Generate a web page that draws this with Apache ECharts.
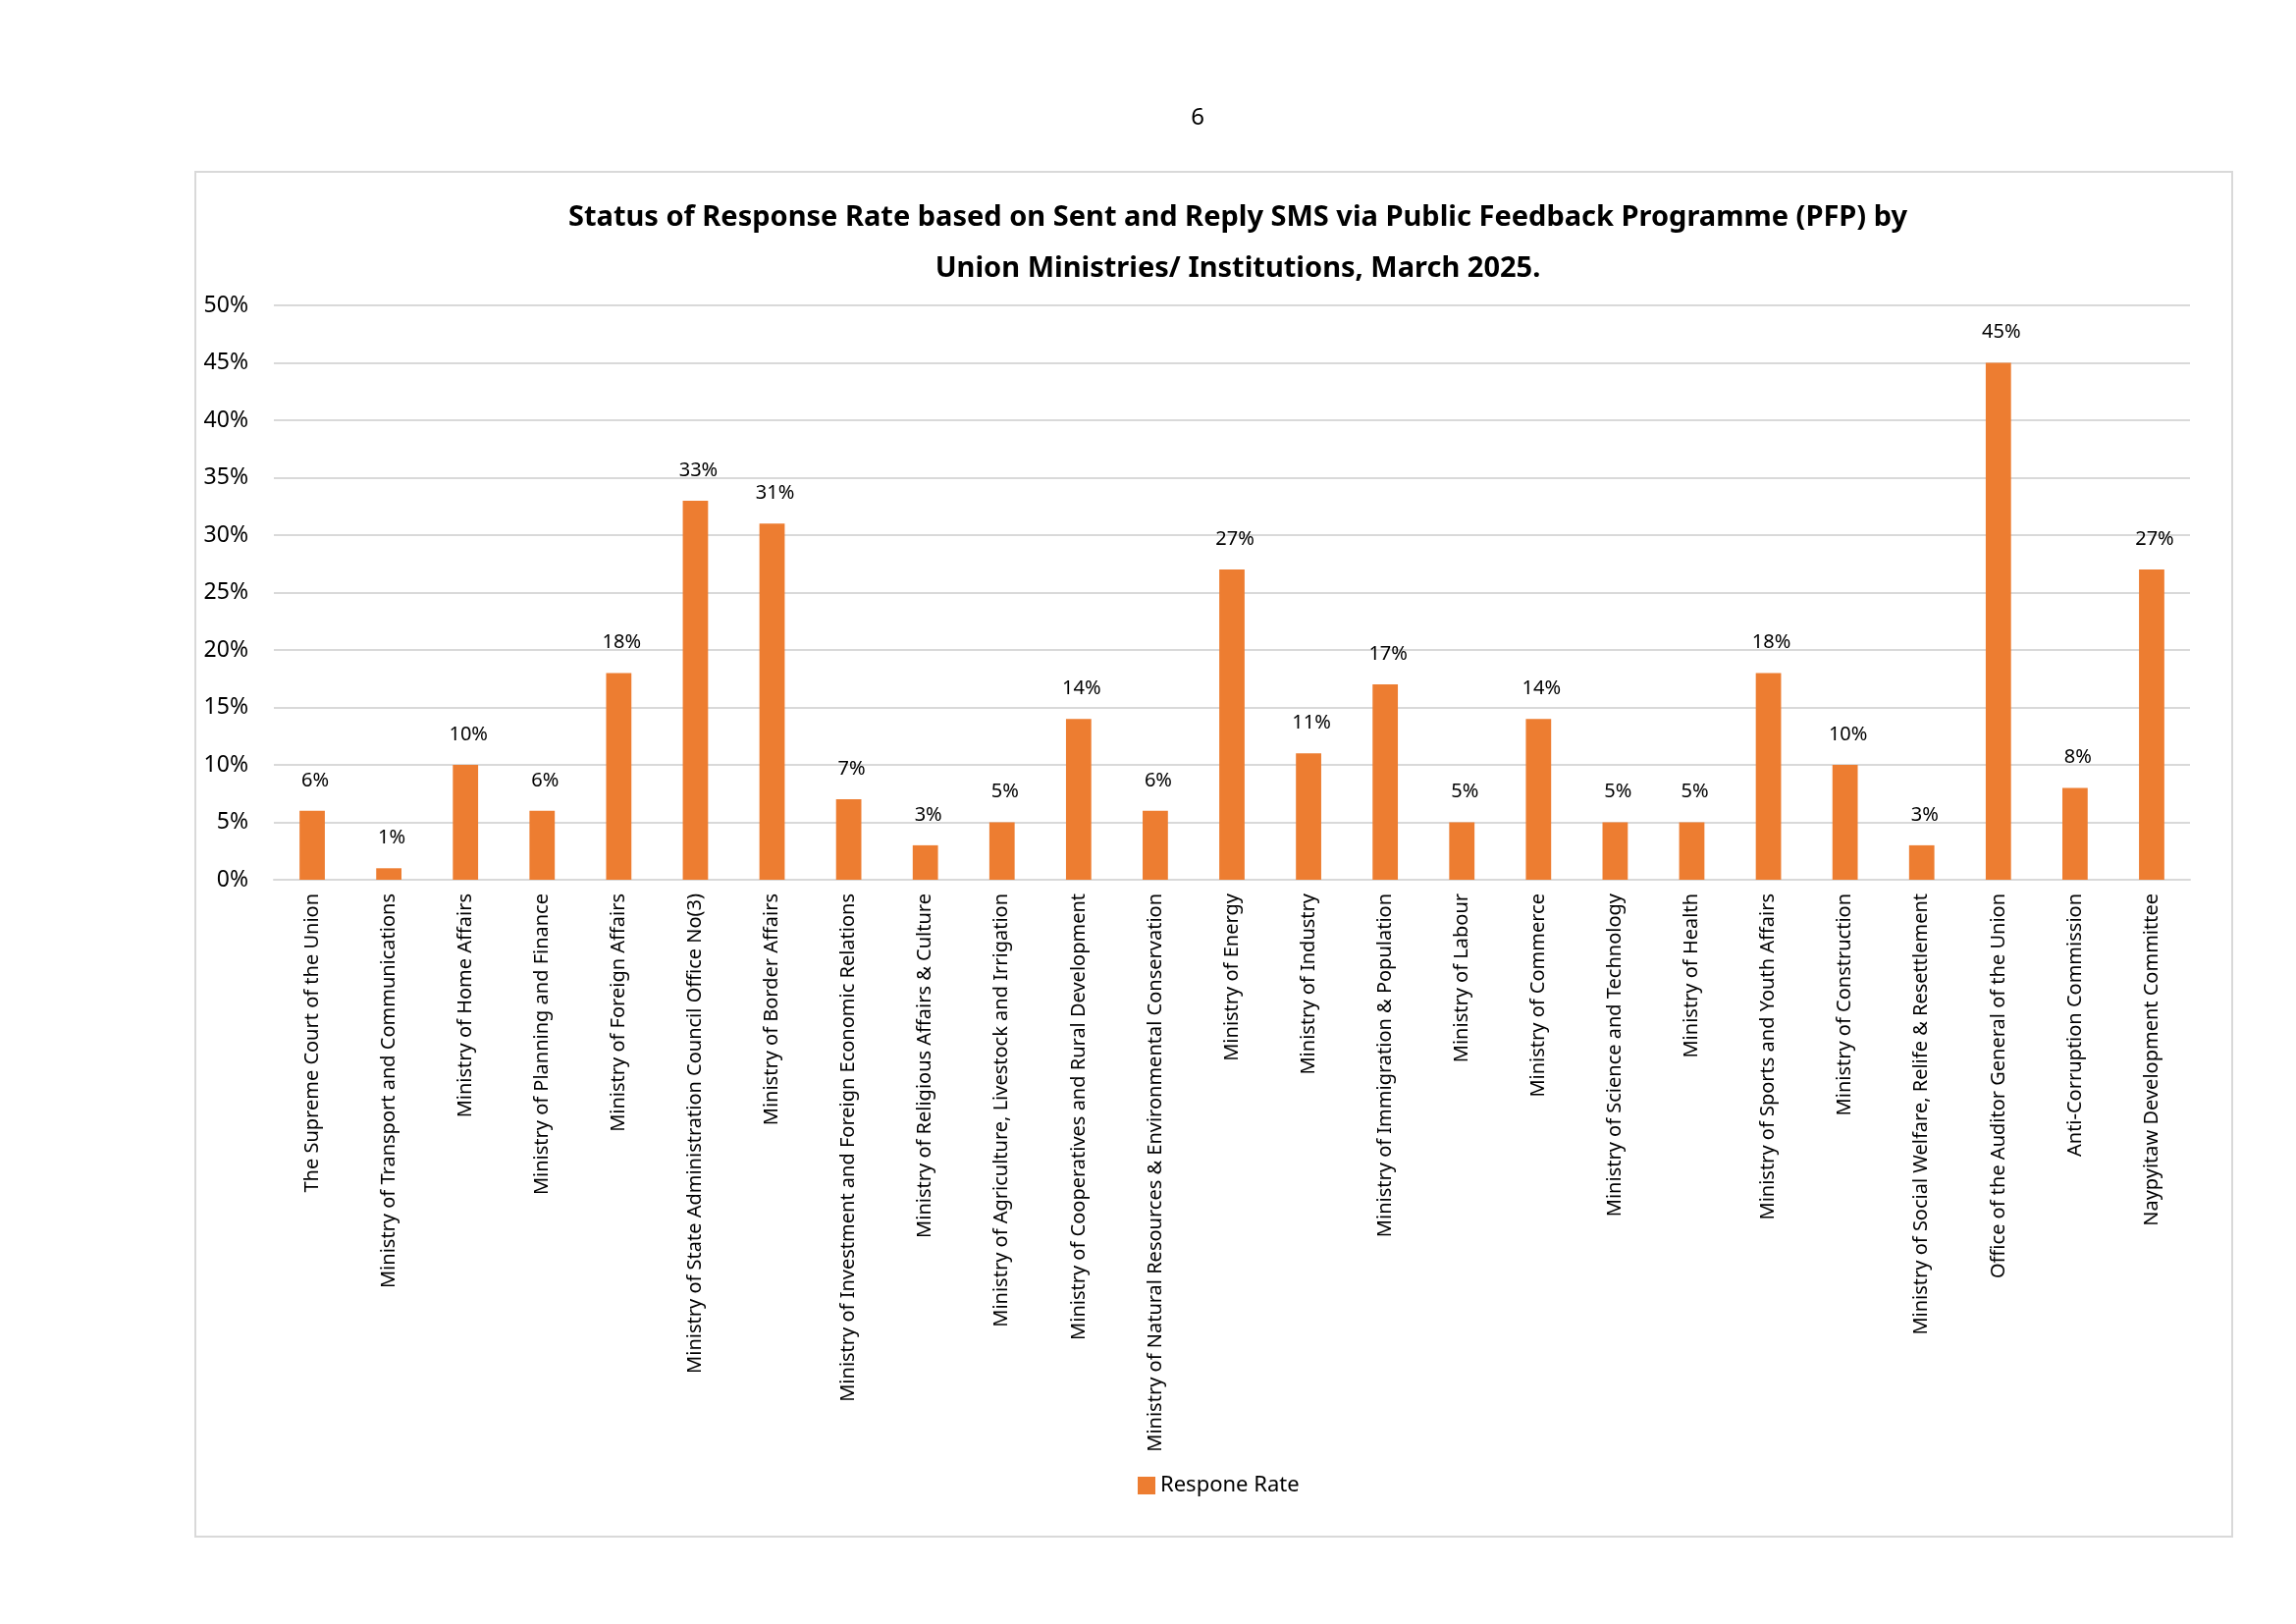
<!DOCTYPE html>
<html>
<head>
<meta charset="utf-8">
<script src="https://cdn.jsdelivr.net/npm/echarts@6/dist/echarts.min.js"></script>
<style>
	html, body { margin: 0; padding: 0; background: #fff; }
	#chart { width: 2339px; height: 1654px; }
</style>
</head>
<body>
<div id="chart"></div>
<script>
	// 数据
	var categories = [
		'The Supreme Court of the Union',
		'Ministry of Transport and Communications',
		'Ministry of Home Affairs',
		'Ministry of Planning and Finance',
		'Ministry of Foreign Affairs',
		'Ministry of State Administration Council Office No(3)',
		'Ministry of Border Affairs',
		'Ministry of Investment and Foreign Economic Relations',
		'Ministry of Religious Affairs & Culture',
		'Ministry of Agriculture, Livestock and Irrigation',
		'Ministry of Cooperatives and Rural Development',
		'Ministry of Natural Resources & Environmental Conservation',
		'Ministry of Energy',
		'Ministry of Industry',
		'Ministry of Immigration & Population',
		'Ministry of Labour',
		'Ministry of Commerce',
		'Ministry of Science and Technology',
		'Ministry of Health',
		'Ministry of Sports and Youth Affairs',
		'Ministry of Construction',
		'Ministry of Social Welfare, Relife & Resettlement',
		'Office of the Auditor General of the Union',
		'Anti-Corruption Commission',
		'Naypyitaw Development Committee'
	];
	var responseRate = [ 6, 1, 10, 6, 18, 33, 31, 7, 3, 5, 14, 6, 27, 11, 17, 5, 14, 5, 5, 18, 10, 3, 45, 8, 27 ];
	var seriesName = 'Respone Rate';
	var titleText = 'Status of Response Rate based on Sent and Reply SMS via Public Feedback Programme (PFP) by\nUnion Ministries/ Institutions, March 2025.';
	var pageNo = '6';

	var font = '"Noto Sans", "Open Sans", sans-serif';
	var orange = '#ED7D31';

	var chart = echarts.init(document.getElementById('chart'));
	chart.setOption({
		animation : false,
		color : [ orange ],
		textStyle : { fontFamily : font },
		// 外框
		graphic : [ {
			type : 'rect',
			shape : { x : 199, y : 175, width : 2075, height : 1390 },
			style : { fill : 'none', stroke : '#d9d9d9', lineWidth : 2 }
		} ],
		title : [ {
			text : pageNo,
			left : 1215,
			top : 103,
			textAlign : 'center',
			textStyle : { fontFamily : font, fontSize : 24, fontWeight : 'normal', color : '#000' }
		}, {
			text : titleText,
			left : 1256,
			top : 191,
			textAlign : 'center',
			textStyle : { fontFamily : font, fontSize : 29, fontWeight : 'bold', color : '#000', lineHeight : 52 }
		} ],
		legend : {
			data : [ seriesName ],
			left : 1154,
			top : 1497,
			icon : 'rect',
			itemWidth : 18,
			itemHeight : 18,
			itemGap : 6,
			textStyle : { fontFamily : font, fontSize : 22, color : '#000' }
		},
		grid : {
			left : 279,
			right : 108,
			top : 311,
			bottom : 758,
			containLabel : false
		},
		xAxis : [ {
			type : 'category',
			data : categories,
			axisLine : { lineStyle : { color : '#d9d9d9', width : 2 } },
			axisTick : { show : false },
			axisLabel : {
				rotate : 90,
				interval : 0,
				margin : 14,
				fontFamily : font,
				fontSize : 20,
				color : '#000'
			}
		} ],
		yAxis : [ {
			type : 'value',
			min : 0,
			max : 50,
			interval : 5,
			axisLine : { show : false },
			axisTick : { show : false },
			splitLine : { lineStyle : { color : '#d9d9d9', width : 2 } },
			axisLabel : {
				formatter : '{value}%',
				margin : 26,
				fontFamily : font,
				fontSize : 23,
				color : '#000'
			}
		} ],
		series : [ {
			name : seriesName,
			type : 'bar',
			barWidth : '33%',
			data : responseRate,
			label : {
				show : true,
				position : 'top',
				distance : 21,
				offset : [ 3, 0 ],
				formatter : '{c}%',
				fontFamily : font,
				fontSize : 20,
				color : '#000'
			}
		} ]
	});
</script>
</body>
</html>
